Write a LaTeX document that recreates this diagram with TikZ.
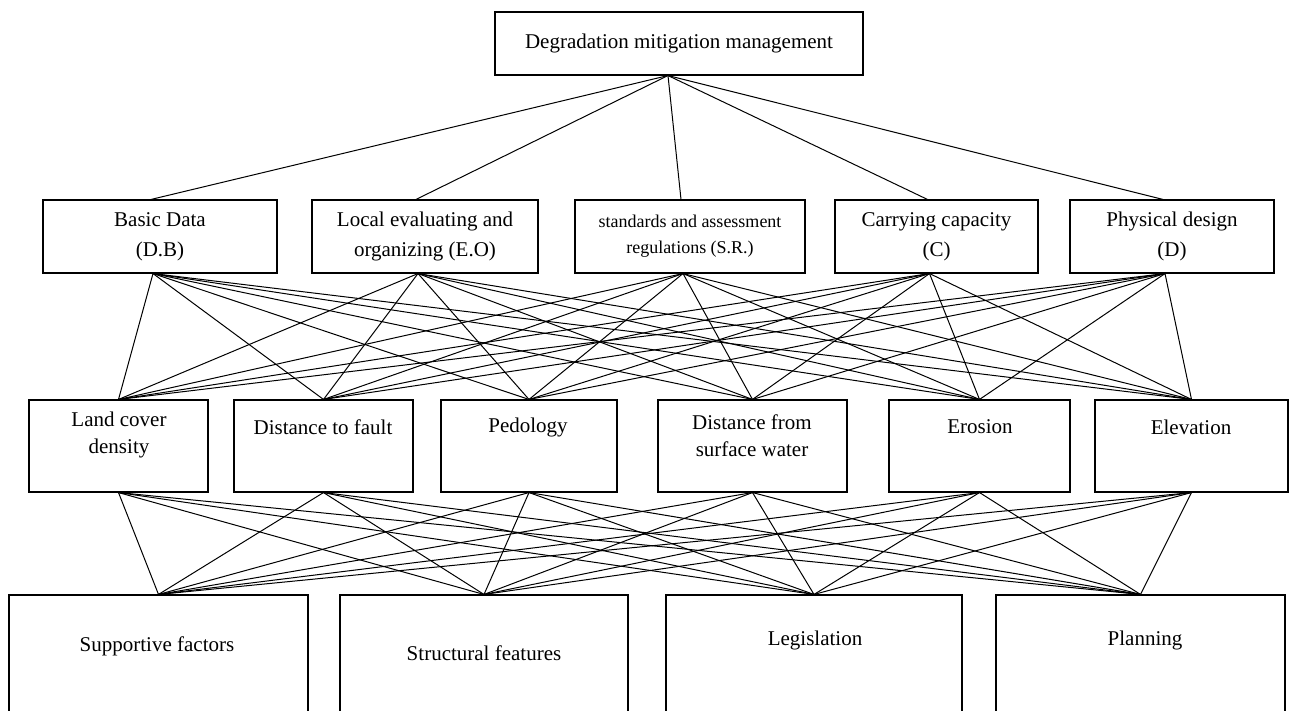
\documentclass[tikz,border=0pt]{standalone}
\usepackage{fontspec}
\setmainfont{Liberation Serif}
\usetikzlibrary{positioning}
\tikzset{
  box/.style={draw, line width=1.1pt, inner sep=0pt, align=center,
    font=\fontsize{21}{30}\selectfont},
  lbl/.style={align=center, inner sep=0pt, font=\fontsize{21}{27}\selectfont},
  link/.style={line width=1pt},
}

\begin{document}
\begin{tikzpicture}[x=1pt,y=-1pt]
  \clip (0,0) rectangle (1290,711);
  % goal
  \node[box, minimum width=368, minimum height=63] (goal) at (679,43.5)
    {Degradation mitigation management};
  % criteria
  \node[box, minimum width=234, minimum height=73] (db) at (160,236.5) {Basic Data\\(D.B)};
  \node[box, minimum width=226, minimum height=73] (eo) at (425,236.5) {Local evaluating and\\organizing (E.O)};
  \node[box, minimum width=230, minimum height=73, font=\fontsize{18}{26}\selectfont]
    (sr) at (690,236.5) {standards and assessment\\regulations (S.R.)};
  \node[box, minimum width=203, minimum height=73] (cc) at (936.5,236.5) {Carrying capacity\\(C)};
  \node[box, minimum width=204, minimum height=73] (pd) at (1172,236.5) {Physical design\\(D)};
  % sub-criteria
  \node[box, minimum width=179, minimum height=92] (lcd) at (118.5,446) {};
  \node[box, minimum width=179, minimum height=92] (dtf) at (323.5,446) {};
  \node[box, minimum width=176, minimum height=92] (ped) at (529,446) {};
  \node[box, minimum width=189, minimum height=92] (dsw) at (752.5,446) {};
  \node[box, minimum width=181, minimum height=92] (ero) at (979.5,446) {};
  \node[box, minimum width=193, minimum height=92] (ele) at (1191.5,446) {};
  \node[lbl] (lcdtxt) at (119,435) {Land cover\\density};
  \node[lbl] (dtftxt) at (323,427) {Distance to fault};
  \node[lbl] (pedtxt) at (528,427) {Pedology};
  \node[lbl] (dswtxt) at (752,436) {Distance from\\surface water};
  \node[lbl] (erotxt) at (980,427) {Erosion};
  \node[lbl] (eletxt) at (1191,427) {Elevation};
  % alternatives
  \node[box, minimum width=299, minimum height=135] (sup) at (158.5,662.5) {};
  \node[box, minimum width=288, minimum height=135] (str) at (484,662.5) {};
  \node[box, minimum width=296, minimum height=135] (leg) at (814,662.5) {};
  \node[box, minimum width=289, minimum height=135] (pla) at (1140.5,662.5) {};
  \node[lbl] (suptxt) at (157,646) {Supportive factors};
  \node[lbl] (strtxt) at (484,653) {Structural features};
  \node[lbl] (legtxt) at (815,640) {Legislation};
  \node[lbl] (platxt) at (1145,640) {Planning};
  \begin{scope}[link]
    \foreach \c in {db,eo,sr,cc,pd}
      \draw ([xshift=-11]goal.south) -- ([xshift=-9]\c.north);
    \foreach \c in {db,eo,sr,cc,pd}
      \foreach \f in {lcd,dtf,ped,dsw,ero,ele}
        \draw ([xshift=-7]\c.south) -- (\f.north);
    \foreach \f in {lcd,dtf,ped,dsw,ero,ele}
      \foreach \a in {sup,str,leg,pla}
        \draw (\f.south) -- (\a.north);
  \end{scope}
\end{tikzpicture}
\end{document}
